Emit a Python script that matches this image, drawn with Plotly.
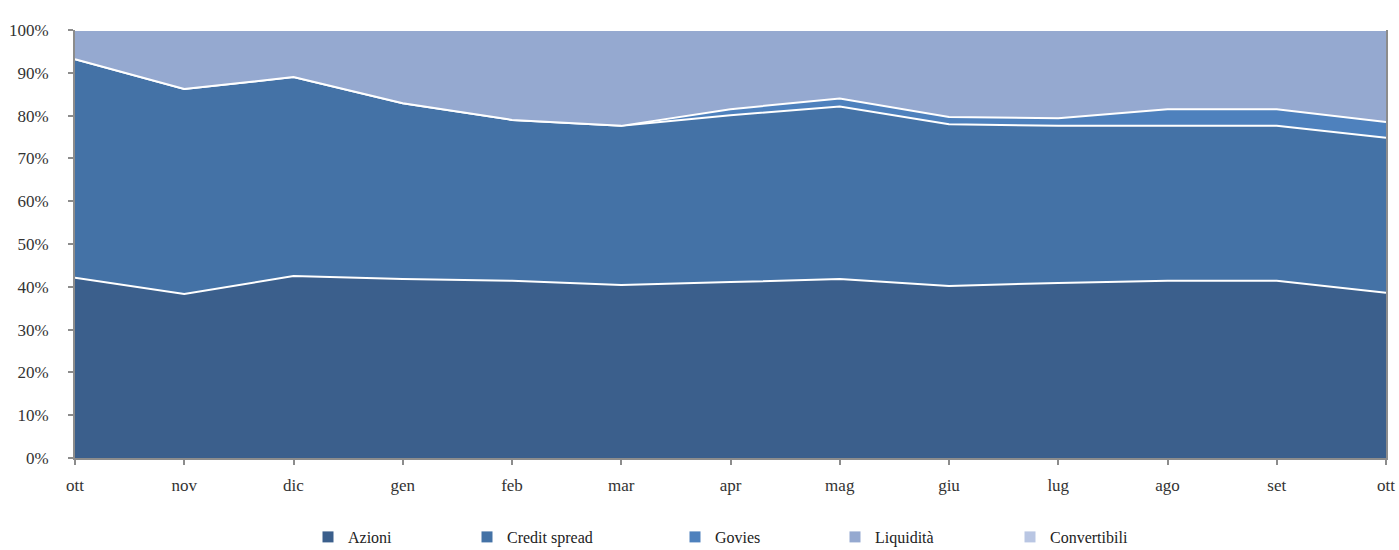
import plotly.graph_objects as go

months = ["ott", "nov", "dic", "gen", "feb", "mar", "apr", "mag", "giu", "lug", "ago", "set", "ott"]
azioni = [42.1, 38.3, 42.5, 41.8, 41.4, 40.4, 41.1, 41.8, 40.2, 40.9, 41.4, 41.4, 38.6]
credit_spread = [51.1, 47.9, 46.5, 41.1, 37.6, 37.2, 39.0, 40.3, 37.8, 36.7, 36.2, 36.2, 36.2]
govies = [0.0, 0.0, 0.0, 0.0, 0.0, 0.0, 1.4, 1.9, 1.7, 1.8, 3.9, 3.9, 3.7]
liquidita = [6.8, 13.8, 11.0, 17.1, 21.0, 22.4, 18.5, 16.0, 20.3, 20.6, 18.5, 18.5, 21.5]
convertibili = [0.0] * 13

names = ["Azioni", "Credit spread", "Govies", "Liquidità", "Convertibili"]
series = [azioni, credit_spread, govies, liquidita, convertibili]
colors = ["#3b5f8c", "#4472a6", "#4e81bd", "#95a9d0", "#b9c6e3"]

x = list(range(len(months)))
FONT = "Liberation Serif"

# body margin is removed below, so figure coordinates == screen coordinates
W, H = 1399, 550
ml, mt = 75, 30
mr = W - 1386
mb = H - 458
pw = W - ml - mr
ph = H - mt - mb

fig = go.Figure()
legend_ids = ["legend", "legend2", "legend3", "legend4", "legend5"]
for name, vals, col in zip(names, series, colors):
    fig.add_trace(go.Scatter(
        x=x, y=vals, name=name, mode="lines", stackgroup="one",
        line=dict(color="white", width=2), fillcolor=col,
        showlegend=False, hoverinfo="skip",
    ))
# legend entries (square swatches)
for name, col, lg in zip(names, colors, legend_ids):
    fig.add_trace(go.Scatter(
        x=[None], y=[None], name=name, mode="markers",
        marker=dict(symbol="square", size=11, color=col),
        legend=lg, showlegend=True, hoverinfo="skip",
    ))

text_starts = [348, 507, 715, 875, 1050]
legend_y_px = 537

layout_legends = {}
for lg, tx in zip(legend_ids, text_starts):
    layout_legends[lg] = dict(
        x=(tx - 40 - ml) / pw, xanchor="left",
        y=(H - mb - legend_y_px) / ph, yanchor="middle",
        orientation="h", bgcolor="rgba(0,0,0,0)",
        font=dict(family=FONT, size=16, color="#222"),
        itemwidth=30,
    )

fig.update_layout(
    width=W, height=H,
    margin=dict(l=ml, r=mr, t=mt, b=mb, autoexpand=False),
    paper_bgcolor="white", plot_bgcolor="white",
    font=dict(family=FONT, size=16, color="#333"),
    showlegend=True,
    **layout_legends,
)
fig.update_xaxes(
    range=[0, 12], tickvals=x, ticktext=months,
    showline=True, linecolor="#8c8c8c", linewidth=2,
    ticks="outside", ticklen=5, tickcolor="#8c8c8c", tickwidth=2,
    showgrid=False, zeroline=False, fixedrange=True, automargin=False,
    ticklabelstandoff=6, ticklabeloverflow="allow",
    tickfont=dict(family=FONT, size=17, color="#333"),
)
fig.update_yaxes(
    range=[0, 100], tickvals=list(range(0, 101, 10)),
    ticktext=[f"{v}%" for v in range(0, 101, 10)],
    showline=True, linecolor="#8c8c8c", linewidth=2, mirror=True,
    ticks="outside", ticklen=5, tickcolor="#8c8c8c", tickwidth=2,
    showgrid=False, zeroline=False, fixedrange=True, automargin=False,
    ticklabelstandoff=16,
    tickfont=dict(family=FONT, size=17, color="#333"),
)

fig.write_html(
    "out.html",
    config={"displayModeBar": False},
    post_script="document.body.style.margin='0';document.body.style.overflow='hidden';",
)
